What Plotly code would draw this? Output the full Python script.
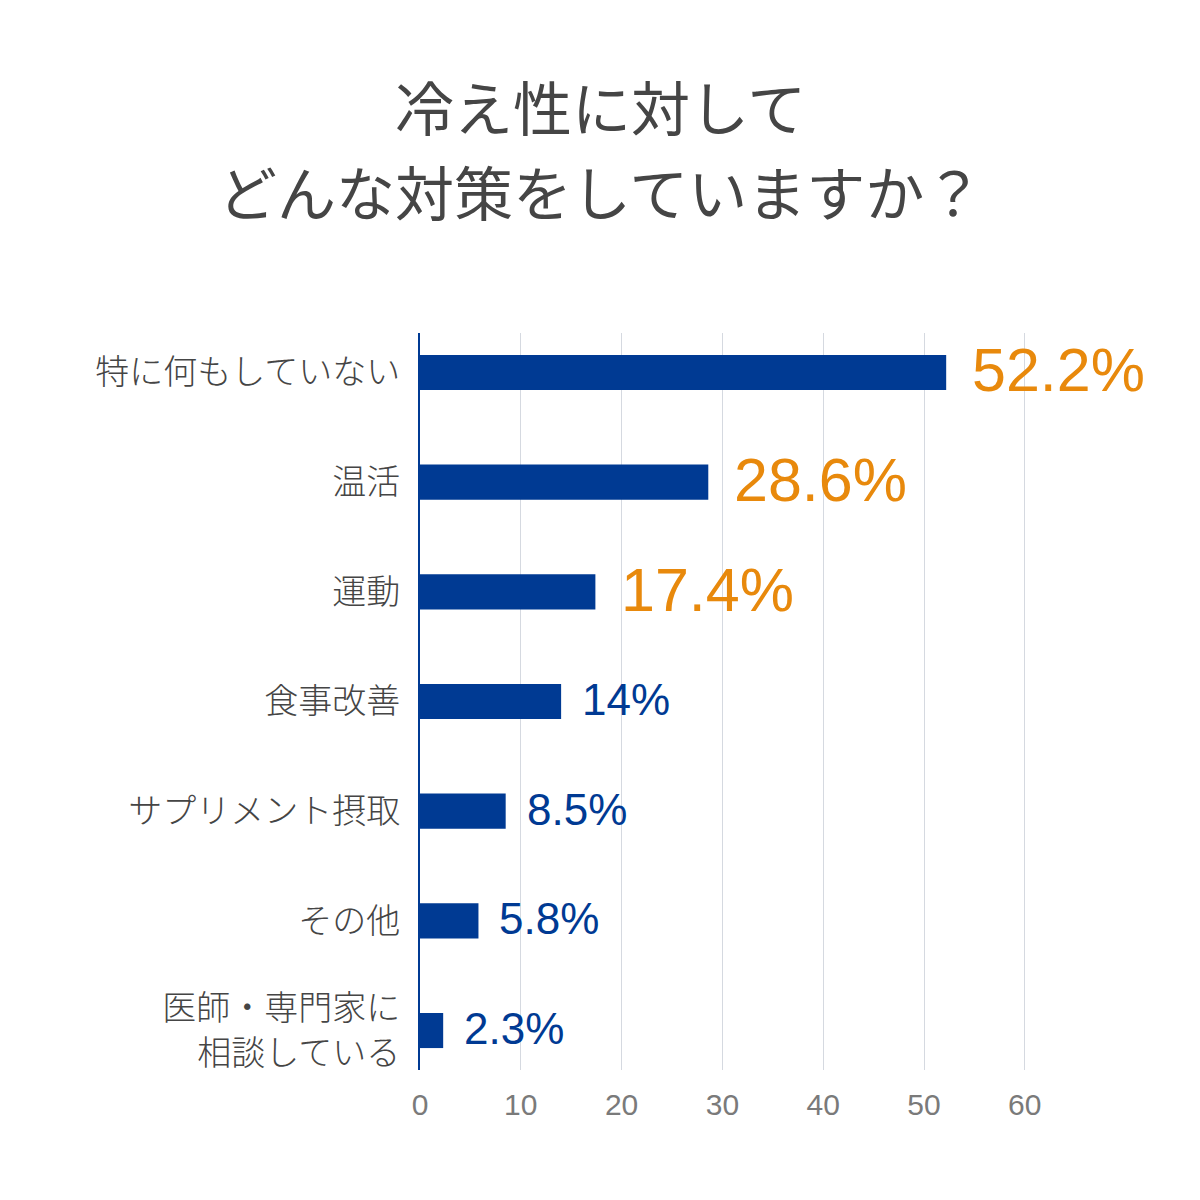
import plotly.graph_objects as go

# data
categories = ["特に何もしていない", "温活", "運動", "食事改善",
              "サプリメント摂取", "その他", "医師・専門家に<br>相談している"]
values = [52.2, 28.6, 17.4, 14.0, 8.5, 5.8, 2.3]
value_labels = ["52.2%", "28.6%", "17.4%", "14%", "8.5%", "5.8%", "2.3%"]
highlight = [True, True, True, False, False, False, False]
tick_vals = [0, 10, 20, 30, 40, 50, 60]

NAVY = "#003A93"
ORANGE = "#E8890C"
FONT = "Liberation Sans, Noto Sans CJK JP, sans-serif"
JP_FONT = "Noto Sans CJK JP, sans-serif"

# page adds ~8px body margin, so the plot box is shifted back by that
L, T, B, R = 412, 325, 138, 58
PW = 1200 - L - R
PH = 1200 - T - B

fig = go.Figure(go.Bar(
    x=values, y=categories, orientation="h",
    marker=dict(color=NAVY, line=dict(width=0)),
    width=0.32, hoverinfo="x+y",
))

# value labels to the right of each bar
for cat, val, lab, hl in zip(categories, values, value_labels, highlight):
    fig.add_annotation(
        x=val, y=cat, text=lab, showarrow=False,
        xanchor="left", yanchor="middle",
        xshift=24 if hl else 19, yshift=2,
        font=dict(family=FONT, size=61 if hl else 44,
                  color=ORANGE if hl else NAVY),
    )

# two-line title
title_lines = ["冷え性に対して", "どんな対策をしていますか？"]
title_y = [97, 182]
for line, py in zip(title_lines, title_y):
    fig.add_annotation(text=line, xref="paper", yref="paper",
                       x=(592 - L) / PW, y=(1200 - B - py) / PH,
                       xanchor="center", yanchor="middle", showarrow=False,
                       font=dict(family=JP_FONT, size=59, color="#454545",
                                 weight=400))

fig.update_layout(
    width=1200, height=1200,
    margin=dict(l=L, r=R, t=T, b=B),
    plot_bgcolor="white", paper_bgcolor="white",
    showlegend=False,
    xaxis=dict(
        range=[0, PW / 10.08], tickvals=tick_vals,
        showgrid=True, gridcolor="#D5D9E0", gridwidth=1,
        zeroline=False, showline=False,
        ticks="outside", ticklen=8, tickcolor="white",
        tickfont=dict(family=FONT, size=30, color="#7A7A7A"),
    ),
    yaxis=dict(
        categoryorder="array", categoryarray=categories,
        autorange=False, range=[6.36, -0.36],
        showgrid=False, zeroline=False,
        showline=True, linecolor=NAVY, linewidth=2,
        ticks="", ticklabelstandoff=11,
        tickfont=dict(family=JP_FONT, size=34, color="#454545", weight=300),
    ),
)

fig.write_html("out.html")
